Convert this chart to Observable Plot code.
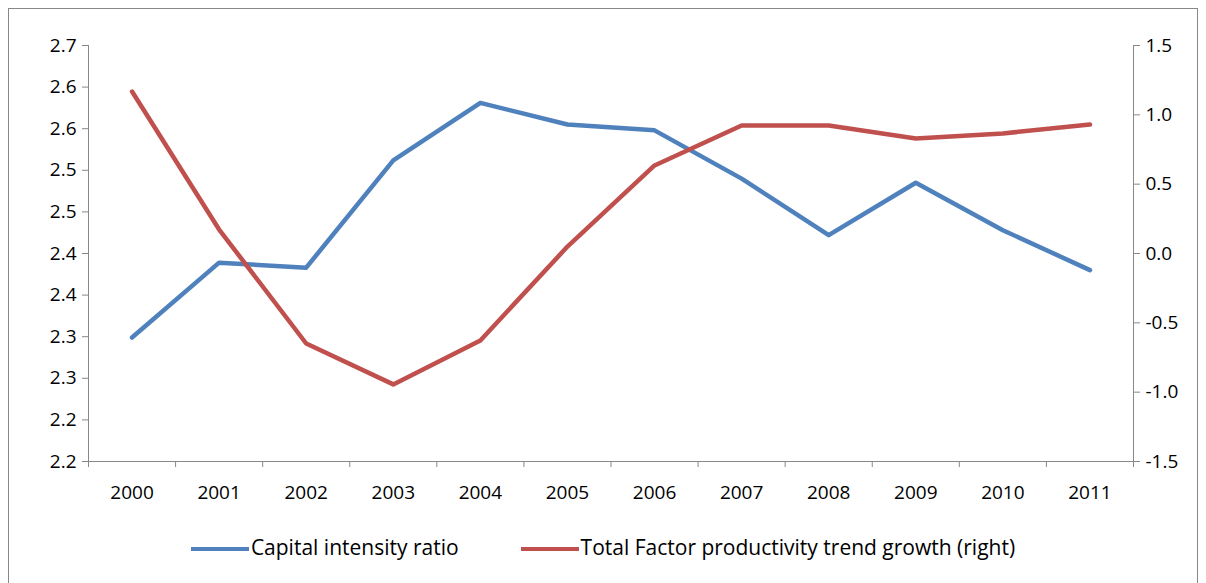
<!DOCTYPE html>
<html><head>
<meta charset="utf-8">
<script src="https://cdn.jsdelivr.net/npm/d3@7"></script>
<script src="https://cdn.jsdelivr.net/npm/@observablehq/plot@0.6"></script>
<style>
body{margin:0;background:#fff;font-family:"Open Sans",sans-serif;}
#frame{position:absolute;left:8px;top:8px;width:1190px;height:590px;border:1px solid #888;box-sizing:border-box;}
#chart{position:absolute;left:0;top:0;}
#legend{position:absolute;top:533px;left:0;width:1206px;text-align:center;font-size:21px;color:#000;}
.k{display:inline-block;width:58px;height:4px;vertical-align:middle;margin-right:2px;}
</style></head><body>
<div id="frame"></div>
<div id="chart"></div>
<div id="legend"><span class="k" style="background:#4F81BD"></span>Capital intensity ratio<span style="display:inline-block;width:62px"></span><span class="k" style="background:#C0504D"></span>Total Factor productivity trend growth (right)</div>
<script>
const years = [2000,2001,2002,2003,2004,2005,2006,2007,2008,2009,2010,2011];
const capital = [2.349,2.439,2.433,2.562,2.631,2.605,2.598,2.540,2.472,2.535,2.478,2.430];
const tfp = [1.168,0.173,-0.649,-0.944,-0.627,0.05,0.635,0.923,0.923,0.83,0.866,0.93];
const leftTicks = [2.2,2.25,2.3,2.35,2.4,2.45,2.5,2.55,2.6,2.65,2.7];
const leftLabels = ["2.2","2.2","2.3","2.3","2.4","2.4","2.5","2.5","2.6","2.6","2.7"];
const rightTicks = [-1.5,-1.0,-0.5,0.0,0.5,1.0,1.5];

const toLeft = r => 2.2 + (r + 1.5) / 3 * 0.5;
const toRight = l => (l - 2.2) / 0.5 * 3 - 1.5;
const bounds = d3.range(1999.5, 2012, 1);
const grey = "#888";

const chart = Plot.plot({
  width: 1206, height: 520,
  marginLeft: 88, marginRight: 73, marginTop: 45, marginBottom: 59,
  style: {fontSize: "19px", fontFamily: "'Open Sans',sans-serif", color: "#000", background: "transparent", overflow: "visible"},
  x: {domain: [1999.5, 2011.5]},
  y: {domain: [2.2, 2.7]},
  marks: [
    Plot.ruleY([2.2], {stroke: grey}),
    Plot.ruleX([1999.5, 2011.5], {stroke: grey}),
    Plot.axisY({ticks: leftTicks, tickFormat: (d, i) => leftLabels[i], tickSize: 6, tickPadding: 6, stroke: grey, label: null}),
    Plot.axisY({anchor: "right", ticks: rightTicks.map(toLeft), tickFormat: d => { const v = toRight(d); return (v < -0.01 ? "-" : "") + Math.abs(v).toFixed(1); }, tickSize: 6, tickPadding: 6, stroke: grey, label: null}),
    Plot.axisX({ticks: bounds, tickFormat: () => "", tickSize: 6, stroke: grey, label: null}),
    Plot.axisX({ticks: years, tickFormat: d => String(d), tickSize: 0, tickPadding: 24, label: null}),
    Plot.line(years, {x: d => d, y: (d, i) => capital[i], stroke: "#4F81BD", strokeWidth: 4.5}),
    Plot.line(years, {x: d => d, y: (d, i) => toLeft(tfp[i]), stroke: "#C0504D", strokeWidth: 4.5})
  ]
});
document.getElementById("chart").append(chart);
</script>
</body></html>
